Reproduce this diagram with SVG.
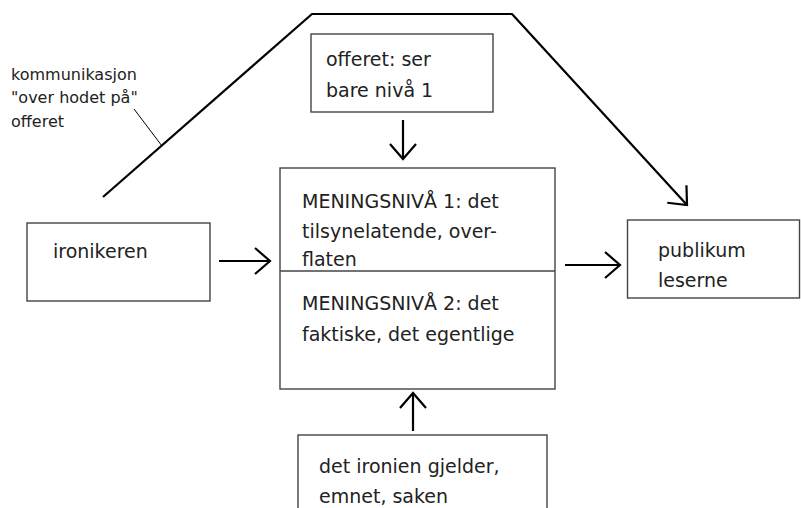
<svg xmlns="http://www.w3.org/2000/svg" width="801" height="508" viewBox="0 0 801 508">
<style>
.box{fill:#fff;stroke:#444;stroke-width:1.4}
.t{font-family:"DejaVu Sans",sans-serif;font-size:19px;fill:#222}
.s{font-family:"DejaVu Sans",sans-serif;font-size:16px;fill:#222}
.ln{fill:none;stroke:#000;stroke-width:2.2;stroke-linejoin:round}
</style>
<defs>
<marker id="arr" viewBox="-20 -16 24 32" refX="0" refY="0" markerWidth="24" markerHeight="32" orient="auto" markerUnits="userSpaceOnUse">
<path d="M-15,-13 L0,0 L-15,13" fill="none" stroke="#000" stroke-width="2.2"/>
</marker>
</defs>
<rect width="801" height="508" fill="#fff"/>
<g id="connectors">
<path class="ln" d="M103,197 L312,14 L512,14 L687,205" marker-end="url(#arr)"/>
<path class="ln" d="M219,261 L270,261" marker-end="url(#arr)"/>
<path class="ln" d="M565,265 L620,265" marker-end="url(#arr)"/>
<path class="ln" d="M403,120 L403,159" marker-end="url(#arr)"/>
<path class="ln" d="M413,431 L413,393" marker-end="url(#arr)"/>
<path d="M134,109 L162,146" fill="none" stroke="#000" stroke-width="1"/>
</g>
<g id="annotation">
<text class="s" x="11" y="80">kommunikasjon</text>
<text class="s" x="11" y="103">"over hodet på"</text>
<text class="s" x="11" y="127">offeret</text>
</g>
<g id="offeret">
<rect class="box" x="311" y="34" width="182" height="78"/>
<text class="t" x="326" y="66">offeret: ser</text>
<text class="t" x="326" y="97">bare nivå 1</text>
</g>
<g id="meningsnivaa">
<rect class="box" x="280" y="168" width="275" height="221"/>
<line x1="280" y1="271" x2="555" y2="271" stroke="#444" stroke-width="1.4"/>
<text class="t" x="302" y="208">MENINGSNIVÅ 1: det</text>
<text class="t" x="302" y="238">tilsynelatende, over-</text>
<text class="t" x="302" y="266">flaten</text>
<text class="t" x="302" y="310">MENINGSNIVÅ 2: det</text>
<text class="t" x="302" y="341">faktiske, det egentlige</text>
</g>
<g id="ironikeren">
<rect class="box" x="27" y="223" width="183" height="78"/>
<text class="t" x="53" y="258">ironikeren</text>
</g>
<g id="publikum">
<rect class="box" x="627.5" y="220" width="172" height="78"/>
<text class="t" x="658" y="257">publikum</text>
<text class="t" x="658" y="287">leserne</text>
</g>
<g id="saken">
<rect class="box" x="298" y="435" width="249" height="80"/>
<text class="t" x="319" y="473">det ironien gjelder,</text>
<text class="t" x="319" y="503">emnet, saken</text>
</g>
</svg>
